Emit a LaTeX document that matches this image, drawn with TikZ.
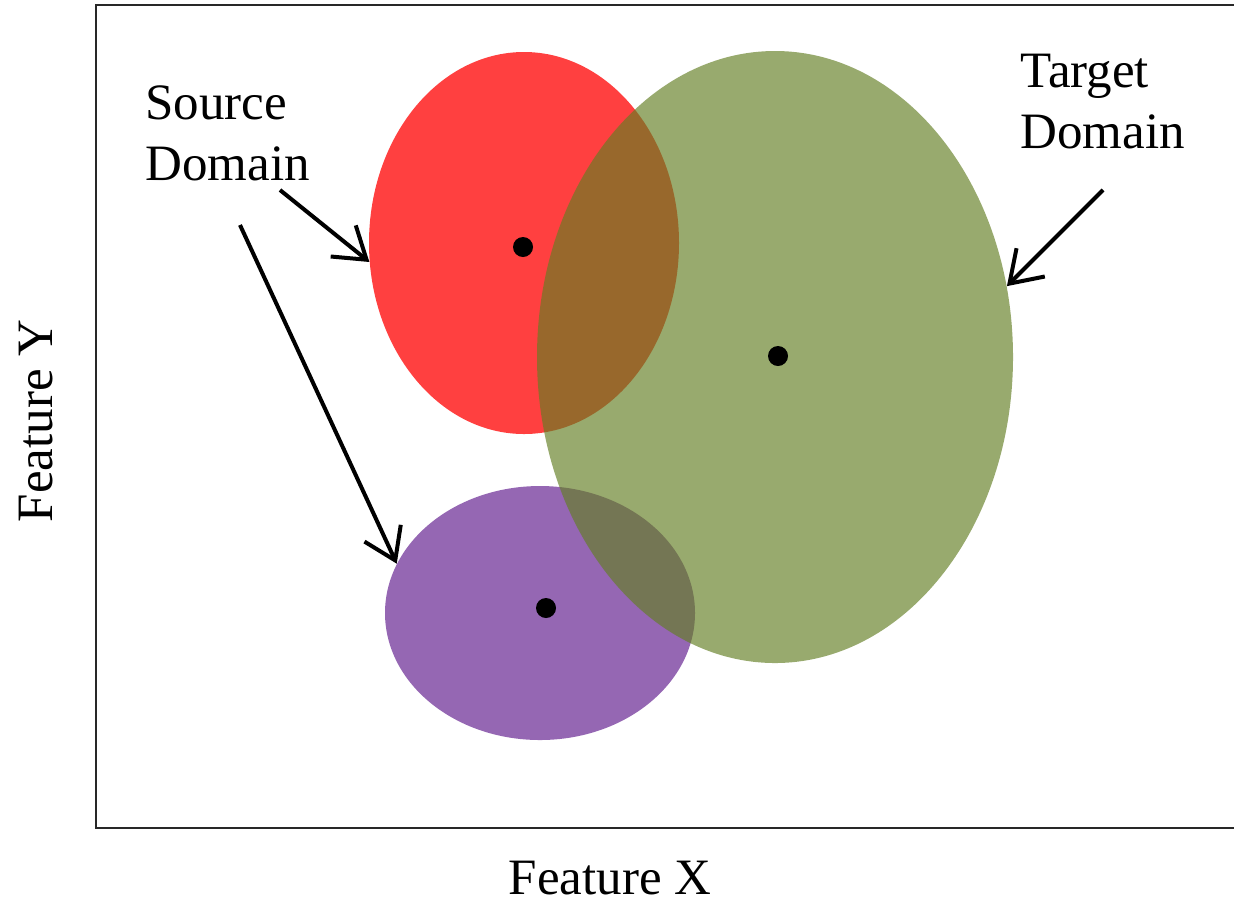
\documentclass[tikz,border=0pt]{standalone}
\usepackage{fontspec}
\setmainfont{Liberation Serif}
\usetikzlibrary{arrows.meta,shapes.geometric}
\definecolor{redfill}{RGB}{255,64,64}
\definecolor{purplefill}{RGB}{149,103,179}
\definecolor{greenfill}{RGB}{99,126,35}
\definecolor{framecol}{RGB}{40,40,40}
\tikzset{
  lbl/.style={font=\fontsize{25.5}{30.5}\selectfont, inner sep=0pt, align=left},
  blob/.style={ellipse, draw=none, inner sep=0pt},
  ptr/.style={line width=2pt, -{Straight Barb[length=15pt,width=20pt]}},
  cdot/.style={circle, fill=black, inner sep=0pt, minimum size=10pt},
}
\begin{document}
\begin{tikzpicture}[x=0.5pt,y=-0.5pt]
\useasboundingbox (0,0) rectangle (1234,902);
% frame
\draw[framecol, line width=1.2pt] (1240,5) -- (96,5) -- (96,828) -- (1240,828);
% domains
\node[blob, fill=redfill, minimum width=155pt, minimum height=191pt] (red) at (524,243) {};
\node[blob, fill=purplefill, minimum width=155pt, minimum height=127pt] (purple) at (540,613) {};
\node[blob, fill=greenfill, fill opacity=0.66, minimum width=238pt, minimum height=306pt] (green) at (775,357) {};
% centres
\node[cdot] (rdot) at (523,247) {};
\node[cdot] (gdot) at (778,356) {};
\node[cdot] (pdot) at (546,608) {};
% labels
\node[lbl, anchor=base west] (src) at (145,180) {Source\\Domain};
\node[lbl, anchor=base west] (tgt) at (1020,148) {Target\\Domain};
\node[lbl, anchor=base, rotate=90] (fy) at (52,421) {Feature Y};
\node[lbl, anchor=base] (fx) at (610,894) {Feature X};
% pointers
\coordinate (s1) at (280,190);
\coordinate (s2) at (240,225);
\coordinate (t1) at (1103,190);
\draw[ptr] (s1) -- (red.187);
\draw[ptr] (s2) -- (purple.161);
\draw[ptr] (t1) -- (green.17);
\end{tikzpicture}
\end{document}
